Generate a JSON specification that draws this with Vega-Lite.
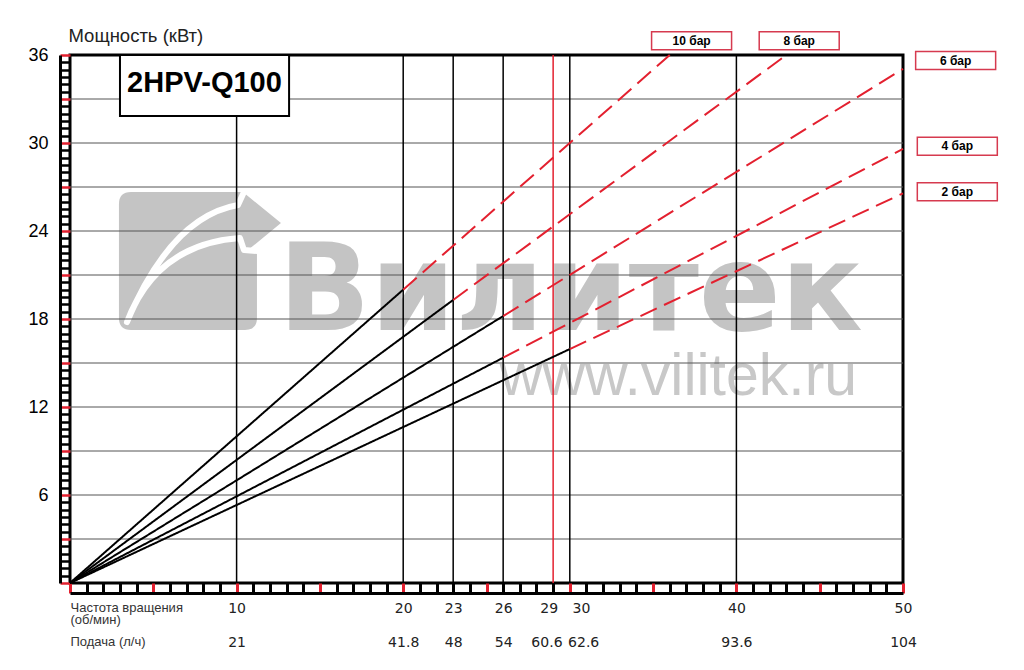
{
  "$schema": "https://vega.github.io/schema/vega-lite/v6.json",
  "width": 833,
  "height": 528,
  "autosize": {"type": "none"},
  "padding": {"left": 70, "top": 55, "right": 121, "bottom": 87},
  "background": "white",
  "config": {"view": {"stroke": "black", "strokeWidth": 3}},
  "datasets": {
    "curves": [
      {"bar": "10 бар", "seg": "solid", "x": 0, "y": 0},
      {"bar": "10 бар", "seg": "solid", "x": 20, "y": 20.0},
      {"bar": "10 бар", "seg": "dashed", "x": 20, "y": 20.0},
      {"bar": "10 бар", "seg": "dashed", "x": 36, "y": 36},
      {"bar": "8 бар", "seg": "solid", "x": 0, "y": 0},
      {"bar": "8 бар", "seg": "solid", "x": 23, "y": 19.3},
      {"bar": "8 бар", "seg": "dashed", "x": 23, "y": 19.3},
      {"bar": "8 бар", "seg": "dashed", "x": 43, "y": 36},
      {"bar": "6 бар", "seg": "solid", "x": 0, "y": 0},
      {"bar": "6 бар", "seg": "solid", "x": 26, "y": 18.2},
      {"bar": "6 бар", "seg": "dashed", "x": 26, "y": 18.2},
      {"bar": "6 бар", "seg": "dashed", "x": 50, "y": 35.05},
      {"bar": "4 бар", "seg": "solid", "x": 0, "y": 0},
      {"bar": "4 бар", "seg": "solid", "x": 26, "y": 15.36},
      {"bar": "4 бар", "seg": "dashed", "x": 26, "y": 15.36},
      {"bar": "4 бар", "seg": "dashed", "x": 50, "y": 29.6},
      {"bar": "2 бар", "seg": "solid", "x": 0, "y": 0},
      {"bar": "2 бар", "seg": "solid", "x": 30, "y": 15.95},
      {"bar": "2 бар", "seg": "dashed", "x": 30, "y": 15.95},
      {"bar": "2 бар", "seg": "dashed", "x": 50, "y": 26.57}
    ],
    "hgrid": [{"y": 3}, {"y": 6}, {"y": 9}, {"y": 12}, {"y": 15}, {"y": 18}, {"y": 21}, {"y": 24}, {"y": 27}, {"y": 30}, {"y": 33}],
    "vlines": [{"x": 10}, {"x": 20}, {"x": 23}, {"x": 26}, {"x": 29}, {"x": 30}, {"x": 40}],
    "labels": [
      {"label": "10 бар", "x": 37.31, "y": 36.97},
      {"label": "8 бар", "x": 43.77, "y": 36.97},
      {"label": "6 бар", "x": 53.16, "y": 35.62},
      {"label": "4 бар", "x": 53.26, "y": 29.77},
      {"label": "2 бар", "x": 53.26, "y": 26.68}
    ],
    "one": [{"k": 1}]
  },
  "layer": [
    {
      "data": {"name": "curves"},
      "mark": {"type": "line", "strokeWidth": 2, "opacity": 0},
      "encoding": {
        "x": {
          "field": "x",
          "type": "quantitative",
          "scale": {"domain": [0, 50], "nice": false, "zero": false},
          "axis": {
            "orient": "bottom",
            "values": [0,1,2,3,4,5,6,7,8,9,10,11,12,13,14,15,16,17,18,19,20,21,22,23,24,25,26,27,28,29,30,31,32,33,34,35,36,37,38,39,40,41,42,43,44,45,46,47,48,49,50],
            "tickCount": 200,
            "offset": 10,
            "grid": false,
            "domain": true,
            "domainColor": "black",
            "domainWidth": 3,
            "ticks": true,
            "tickSize": -10,
            "tickWidth": 3,
            "tickColor": {"condition": {"test": "datum.value % 5 === 0", "value": "#e3202f"}, "value": "black"},
            "labelExpr": "datum.value==10?['10','21']:datum.value==20?['20','41.8']:datum.value==23?['23','48']:datum.value==26?['26','54']:datum.value==29?['29\u00a0\u00a0\u200b','60.6\u00a0\u00a0\u00a0\u200b']:datum.value==30?['\u200b\u00a0\u00a0\u00a0\u00a0\u00a030','\u200b\u00a0\u00a0\u00a0\u00a0\u00a0\u00a062.6']:datum.value==40?['40','93.6']:datum.value==50?['50','104']:''",
            "labelFont": "DejaVu Sans",
            "labelFontSize": 14,
            "labelColor": "#222222",
            "labelBaseline": "top",
            "labelLineHeight": 34,
            "labelPadding": 18,
            "labelOverlap": false,
            "labelFlush": false,
            "labelBound": false,
            "title": ["Частота вращения", "(об/мин)", "\u200b", "Подача (л/ч)"],
            "titleFont": "Liberation Sans",
            "titleFontSize": 13,
            "titleFontWeight": "normal",
            "titleColor": "#333333",
            "titleLineHeight": 11.3,
            "titleX": 0,
            "titleY": 18.7,
            "titleAlign": "left",
            "titleAnchor": "start",
            "titleBaseline": "alphabetic"
          }
        },
        "y": {
          "field": "y",
          "type": "quantitative",
          "scale": {"domain": [0, 36], "nice": false, "zero": false},
          "axis": {
            "orient": "left",
            "values": [0,0.5,1,1.5,2,2.5,3,3.5,4,4.5,5,5.5,6,6.5,7,7.5,8,8.5,9,9.5,10,10.5,11,11.5,12,12.5,13,13.5,14,14.5,15,15.5,16,16.5,17,17.5,18,18.5,19,19.5,20,20.5,21,21.5,22,22.5,23,23.5,24,24.5,25,25.5,26,26.5,27,27.5,28,28.5,29,29.5,30,30.5,31,31.5,32,32.5,33,33.5,34,34.5,35,35.5,36],
            "tickCount": 200,
            "offset": 10,
            "grid": false,
            "domain": true,
            "domainColor": "black",
            "domainWidth": 3,
            "ticks": true,
            "tickSize": -10,
            "tickWidth": 2.5,
            "tickColor": {"condition": {"test": "datum.value % 3 === 0", "value": "#e3202f"}, "value": "black"},
            "labelExpr": "datum.value % 6 === 0 && datum.value > 0 ? format(datum.value, 'd') : ''",
            "labelFont": "Liberation Sans",
            "labelFontSize": 18,
            "labelColor": "black",
            "labelPadding": 22,
            "labelOverlap": false,
            "labelFlush": false,
            "labelBound": false,
            "title": "Мощность (кВт)",
            "titleFont": "Liberation Sans",
            "titleFontSize": 18.5,
            "titleFontWeight": "normal",
            "titleColor": "#222222",
            "titleAngle": 0,
            "titleX": 8,
            "titleY": -14,
            "titleAlign": "left",
            "titleBaseline": "alphabetic"
          }
        },
        "detail": [{"field": "bar"}, {"field": "seg"}]
      }
    },
    {
      "data": {"name": "one"},
      "mark": {"type": "point", "shape": "M-0.826,-1L0.797,-1L1.348,-0.551L0.87,-0.159L1,-0.13L1,0.826Q1,1 0.826,1L-0.826,1Q-1,1 -1,0.826L-1,-0.826Q-1,-1 -0.826,-1Z", "filled": true, "color": "#c4c4c4", "opacity": 1, "size": 19044, "strokeWidth": 0},
      "encoding": {
        "x": {"datum": 7.08, "type": "quantitative", "scale": {"domain": [0, 50], "nice": false, "zero": false}},
        "y": {"datum": 21.95, "type": "quantitative", "scale": {"domain": [0, 36], "nice": false, "zero": false}}
      }
    },
    {
      "data": {"name": "one"},
      "mark": {"type": "point", "shape": "M-0.884,0.884Q-0.239,-0.645 0.725,-0.812L0.812,-1M-0.884,0.884Q-0.457,-0.246 0.754,-0.333L0.812,-0.159L1.014,-0.145", "filled": false, "color": "white", "opacity": 1, "size": 19044, "strokeWidth": 6, "strokeCap": "round", "strokeJoin": "round"},
      "encoding": {
        "x": {"datum": 7.08, "type": "quantitative", "scale": {"domain": [0, 50], "nice": false, "zero": false}},
        "y": {"datum": 21.95, "type": "quantitative", "scale": {"domain": [0, 36], "nice": false, "zero": false}}
      }
    },
    {
      "data": {"name": "one"},
      "mark": {"type": "text", "text": "Вилитек", "font": "DejaVu Sans", "fontWeight": "bold", "fontSize": 121, "color": "#c4c4c4", "align": "left", "baseline": "alphabetic"},
      "encoding": {
        "x": {"datum": 12.5, "type": "quantitative", "scale": {"domain": [0, 50], "nice": false, "zero": false}},
        "y": {"datum": 17.25, "type": "quantitative", "scale": {"domain": [0, 36], "nice": false, "zero": false}}
      }
    },
    {
      "data": {"name": "one"},
      "mark": {"type": "text", "text": "www.vilitek.ru", "font": "Liberation Sans", "fontSize": 59, "color": "#c8c8c8", "align": "left", "baseline": "alphabetic"},
      "encoding": {
        "x": {"datum": 25.8, "type": "quantitative", "scale": {"domain": [0, 50], "nice": false, "zero": false}},
        "y": {"datum": 12.8, "type": "quantitative", "scale": {"domain": [0, 36], "nice": false, "zero": false}}
      }
    },
    {
      "data": {"name": "hgrid"},
      "mark": {"type": "rule", "color": "#555555", "strokeWidth": 1},
      "encoding": {
        "y": {"field": "y", "type": "quantitative", "scale": {"domain": [0, 36], "nice": false, "zero": false}}
      }
    },
    {
      "data": {"name": "vlines"},
      "mark": {"type": "rule", "strokeWidth": 1.5},
      "encoding": {
        "x": {"field": "x", "type": "quantitative", "scale": {"domain": [0, 50], "nice": false, "zero": false}},
        "color": {"condition": {"test": "datum.x == 29", "value": "#e3202f"}, "value": "black"}
      }
    },
    {
      "data": {"name": "curves"},
      "mark": {"type": "line", "strokeWidth": 2},
      "encoding": {
        "x": {"field": "x", "type": "quantitative", "scale": {"domain": [0, 50], "nice": false, "zero": false}},
        "y": {"field": "y", "type": "quantitative", "scale": {"domain": [0, 36], "nice": false, "zero": false}},
        "detail": [{"field": "bar"}, {"field": "seg"}],
        "color": {"field": "seg", "type": "nominal", "scale": {"domain": ["solid", "dashed"], "range": ["black", "#e3202f"]}, "legend": null},
        "strokeDash": {"field": "seg", "type": "nominal", "scale": {"domain": ["solid", "dashed"], "range": [[1, 0], [18, 8]]}, "legend": null}
      }
    },
    {
      "data": {"name": "one"},
      "mark": {"type": "rect", "fill": "white", "stroke": "black", "strokeWidth": 2},
      "encoding": {
        "x": {"datum": 3.0, "type": "quantitative", "scale": {"domain": [0, 50], "nice": false, "zero": false}},
        "x2": {"datum": 13.15},
        "y": {"datum": 31.84, "type": "quantitative", "scale": {"domain": [0, 36], "nice": false, "zero": false}},
        "y2": {"datum": 36}
      }
    },
    {
      "data": {"name": "one"},
      "mark": {"type": "text", "text": "2HPV-Q100", "font": "Liberation Sans", "fontWeight": "bold", "fontSize": 29, "color": "black", "align": "center", "baseline": "alphabetic"},
      "encoding": {
        "x": {"datum": 8.07, "type": "quantitative", "scale": {"domain": [0, 50], "nice": false, "zero": false}},
        "y": {"datum": 33.5, "type": "quantitative", "scale": {"domain": [0, 36], "nice": false, "zero": false}}
      }
    },
    {
      "data": {"name": "labels"},
      "mark": {"type": "point", "shape": "M-1,-0.225H1V0.225H-1Z", "filled": false, "color": "#d63a4f", "opacity": 1, "size": 6400, "strokeWidth": 1.5},
      "encoding": {
        "x": {"field": "x", "type": "quantitative", "scale": {"domain": [0, 50], "nice": false, "zero": false}},
        "y": {"field": "y", "type": "quantitative", "scale": {"domain": [0, 36], "nice": false, "zero": false}}
      }
    },
    {
      "data": {"name": "labels"},
      "mark": {"type": "text", "font": "Liberation Sans", "fontWeight": "bold", "fontSize": 12, "color": "black", "align": "center", "baseline": "middle"},
      "encoding": {
        "x": {"field": "x", "type": "quantitative", "scale": {"domain": [0, 50], "nice": false, "zero": false}},
        "y": {"field": "y", "type": "quantitative", "scale": {"domain": [0, 36], "nice": false, "zero": false}},
        "text": {"field": "label"}
      }
    }
  ]
}
